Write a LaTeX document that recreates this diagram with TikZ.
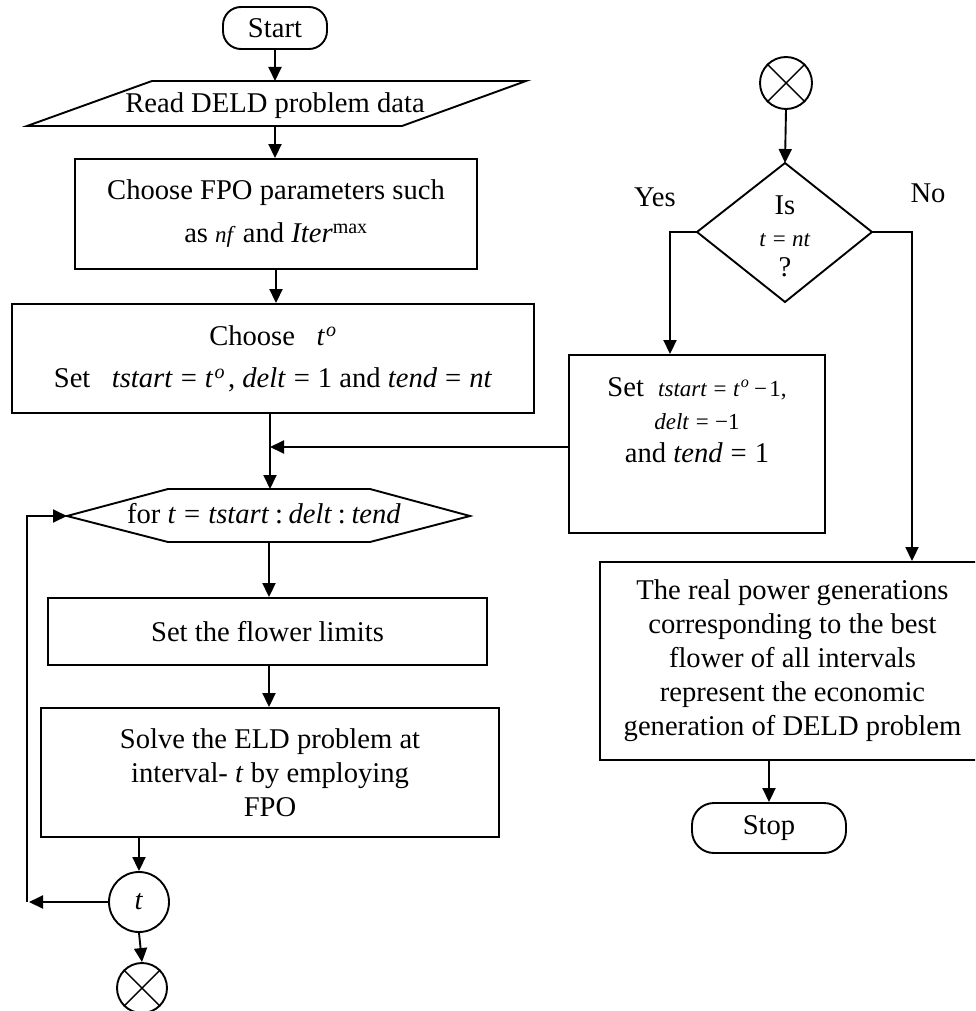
\documentclass[tikz,border=0pt]{standalone}
\usepackage{fontspec}
\setmainfont{Liberation Serif}
\usetikzlibrary{arrows.meta}
\newcommand{\smf}{\fontsize{23}{27}\selectfont}
\newcommand{\eqs}{\hspace{0.28em}=\hspace{0.28em}}
\newcommand{\cols}{\hspace{0.2em}:\hspace{0.2em}}
\newcommand{\supo}{\textsuperscript{\hspace{0.06em}\textit{o}}}
\begin{document}
\begin{tikzpicture}[x=1pt,y=-1pt, line width=1.9pt,
  every node/.style={font=\fontsize{28.6}{34}\selectfont, inner sep=0pt},
  box/.style={draw, rectangle, align=center},
  term/.style={draw, rectangle, align=center},
  conn/.style={draw, circle},
  arr/.style={-{Triangle[length=14pt,width=13pt]}}]
\useasboundingbox (0,0) rectangle (975,1011);
\clip (0,0) rectangle (975,1011);

% left column
\node[term, rounded corners=18pt, minimum width=104pt, minimum height=42pt] (start) at (275,28) {Start};

\coordinate (readT) at (275,81);
\coordinate (readB) at (275,126);
\draw (27,126) -- (402,126) -- (526,81) -- (152,81) -- cycle;
\node (read) at (275,106) {Read DELD problem data};

\node[box, minimum width=402pt, minimum height=110pt] (fpo) at (276,214)
  {Choose FPO parameters such\\[9pt] as {\smf\textit{nf}} and \textit{Iter}\textsuperscript{max}};

\node[box, minimum width=522pt, minimum height=109pt] (choose) at (273,358.5)
  {Choose\ \ \ \textit{t}\supo\\[8pt]
   Set\ \ \ \textit{tstart}\eqs\textit{t}\supo\hspace{0.1em}, \textit{delt}\eqs 1 and \textit{tend}\eqs\textit{nt}};

\coordinate (junc) at (270,447);
\coordinate (forW) at (67,516);
\coordinate (forT) at (270,489);
\coordinate (forB) at (269,542);
\draw (forW) -- (168,489) -- (370,489) -- (470,516) -- (370,542) -- (168,542) -- cycle;
\node (for) at (264,514) {for \textit{t}\eqs\textit{tstart}\cols\textit{delt}\cols\textit{tend}};

\node[box, minimum width=439pt, minimum height=67pt] (flower) at (267.5,631.5) {Set the flower limits};

\node[box, minimum width=458pt, minimum height=129pt] (solve) at (270,772.5)
  {Solve the ELD problem at\\ interval-\ \textit{t}\ by employing\\ FPO};

\node[conn, minimum size=60pt] (tc) at (139,902) {\textit{t}};
\node[conn, minimum size=50pt] (xb) at (142,988) {};
\draw[line width=1.4pt] (xb.45) -- (xb.225) (xb.135) -- (xb.315);

\coordinate (lpA) at (29,902);
\coordinate (lpB) at (27,902);

% right column
\node[conn, minimum size=52pt] (xt) at (786,83) {};
\draw[line width=1.4pt] (xt.45) -- (xt.225) (xt.135) -- (xt.315);

\coordinate (dT) at (785,163);
\coordinate (dL) at (697,232);
\coordinate (dR) at (872,232);
\coordinate (dB) at (785,302);
\draw (dT) -- (dR) -- (dB) -- (dL) -- cycle;
\node[align=center] (dtext) at (785,236) {Is\\[-2pt]{\smf\textit{t}\eqs\textit{nt}}\\[-4pt]?};

\node (yes) at (655,197) {Yes};
\node (no) at (928,193) {No};

\node[box, minimum width=256pt, minimum height=178pt] (setR) at (697,444) {};
\node[align=center] (setRtext) at (697,420)
  {Set\ \ {\smf\textit{tstart}\eqs\textit{t}\supo\hspace{0.2em}−\hspace{0.1em}1,}\\[-1pt]
   {\smf\textit{delt}\eqs−1}\\[-1pt]
   and \textit{tend}\eqs 1};

\node[box, minimum width=385pt, minimum height=198pt] (real) at (792.5,661)
  {The real power generations\\ corresponding to the best\\ flower of all intervals\\
   represent the economic\\ generation of DELD problem};

\node[term, rounded corners=22pt, minimum width=154pt, minimum height=50pt] (stop) at (769,828) {Stop};

\coordinate (yc) at (670,232);
\coordinate (nc) at (912,232);

% connectors
\draw[arr] (start.south) -- (readT);
\draw[arr] (readB) -- (readB |- fpo.north);
\draw[arr] (fpo.south) -- (fpo.south |- choose.north);
\draw[arr] (choose.south -| forT) -- (forT);
\draw[arr] (setR.west |- junc) -- (junc);
\draw[arr] (forB) -- (forB |- flower.north);
\draw[arr] (flower.south -| forB) -- (forB |- solve.north);
\draw[arr] (solve.south -| tc) -- (tc.north);
\draw[arr] (tc.south) -- (xb.north);
\draw[arr] (tc.west) -- (lpA);
\draw[arr] (lpB) -- (lpB |- forW) -- (forW);

\draw[arr] (xt.south) -- (dT);
\draw[arr] (dL) -- (yc) -- (yc |- setR.north);
\draw[arr] (dR) -- (nc) -- (nc |- real.north);
\draw[arr] (real.south -| stop) -- (stop.north);
\end{tikzpicture}
\end{document}
